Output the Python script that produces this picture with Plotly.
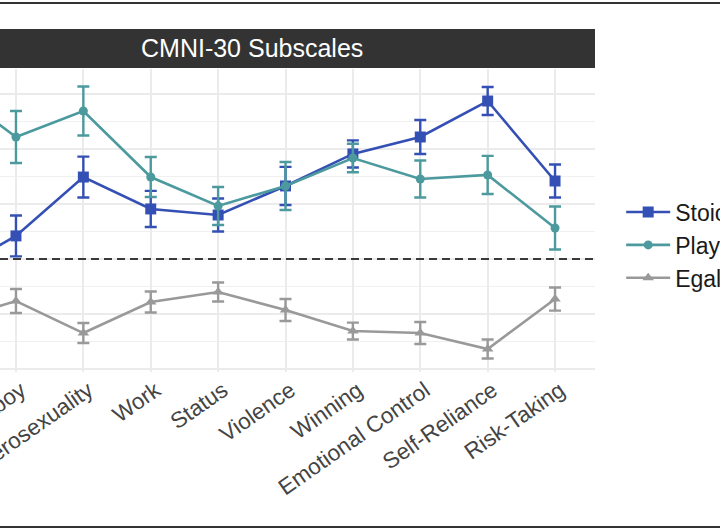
import plotly.graph_objects as go

categories = ["Power Over Women", "Playboy", "Heterosexuality", "Work", "Status",
              "Violence", "Winning", "Emotional Control", "Self-Reliance", "Risk-Taking"]

stoic = [-0.14, 0.21, 0.745, 0.455, 0.40, 0.664, 0.955, 1.109, 1.436, 0.709]
stoic_err = [0.18, 0.186, 0.186, 0.164, 0.15, 0.173, 0.123, 0.155, 0.127, 0.15]

player = [1.56, 1.109, 1.345, 0.745, 0.482, 0.664, 0.918, 0.727, 0.764, 0.282]
player_err = [0.22, 0.236, 0.223, 0.182, 0.173, 0.218, 0.13, 0.168, 0.173, 0.195]

egal = [-0.564, -0.382, -0.673, -0.391, -0.30, -0.464, -0.655, -0.673, -0.818, -0.364]
egal_err = [0.1, 0.109, 0.091, 0.095, 0.086, 0.10, 0.077, 0.10, 0.086, 0.105]

series = [
    ("Stoic", stoic, stoic_err, "#3550B4", "square", 11),
    ("Player", player, player_err, "#4C9A9E", "circle", 9),
    ("Egalitarian", egal, egal_err, "#999999", "triangle-up", 10),
]

fig = go.Figure()
for name, vals, errs, col, sym, sz in series:
    fig.add_trace(go.Scatter(
        x=categories, y=vals, name=name, mode="lines+markers",
        line=dict(color=col, width=2.6),
        marker=dict(color=col, symbol=sym, size=sz),
        error_y=dict(type="data", array=errs, visible=True, color=col,
                     thickness=2.4, width=6),
    ))

fig.add_hline(y=0, line=dict(color="black", width=1.6, dash="8px,5px"))

# facet strip
fig.add_shape(type="rect", xref="paper", yref="paper", x0=-0.3, x1=1.0,
              y0=1.003, y1=1.132, fillcolor="#333333", line=dict(width=0), layer="below")
fig.add_annotation(text="CMNI-30 Subscales", xref="paper", yref="paper",
                   x=0.4228, y=1.0677, showarrow=False,
                   font=dict(family="Liberation Sans, Arial", size=25, color="white"),
                   xanchor="center", yanchor="middle")

# image frame lines
for yv in (1.2178, -0.5116):
    fig.add_shape(type="line", xref="paper", yref="paper", x0=-0.05, x1=1.25,
                  y0=yv, y1=yv, line=dict(color="#333333", width=2))

fig.update_layout(
    template="none",
    width=720, height=530,
    margin=dict(l=0, r=125, t=69, b=158, autoexpand=False),
    paper_bgcolor="white", plot_bgcolor="white",
    showlegend=True,
    legend=dict(x=1.044, y=0.419, xanchor="left", yanchor="middle",
                font=dict(family="Liberation Sans, Arial", size=23, color="#1a1a1a"),
                itemwidth=44, tracegroupgap=0, bgcolor="rgba(0,0,0,0)"),
    font=dict(family="Liberation Sans, Arial"),
)
fig.update_xaxes(type="category", range=[0.763, 9.593], automargin=False,
                 showgrid=True, gridcolor="#EBEBEB", gridwidth=1.5,
                 showline=False, zeroline=False, ticks="", ticklabelshift=5,
                 tickangle=-35, tickfont=dict(size=22.5, color="#444444"))
fig.update_yaxes(range=[-1.027, 1.727], automargin=False, showticklabels=False,
                 showgrid=True, gridcolor="#EBEBEB", gridwidth=1.5, dtick=0.5, tick0=0,
                 minor=dict(dtick=0.25, showgrid=True, gridcolor="#F0F0F0", gridwidth=1),
                 zeroline=False, showline=False, ticks="")

fig.write_html("out.html", config={"displayModeBar": False},
               post_script="document.body.style.margin='0';")
